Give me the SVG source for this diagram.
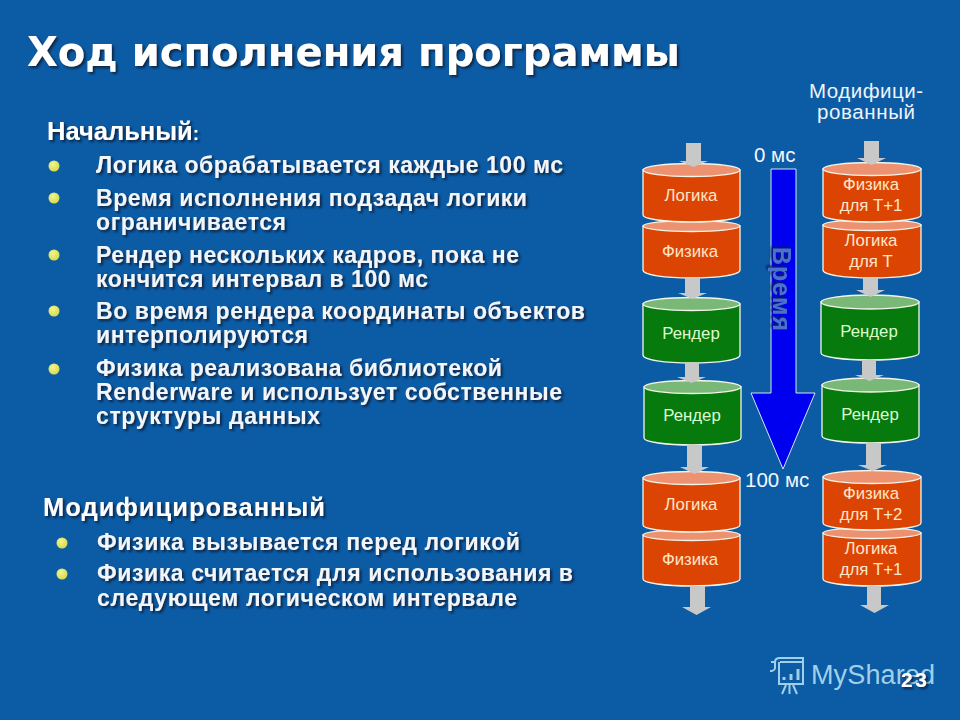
<svg xmlns="http://www.w3.org/2000/svg" width="960" height="720" viewBox="0 0 960 720">
<defs>
<filter id="sh" x="-5%" y="-30%" width="110%" height="160%"><feDropShadow dx="2" dy="2" stdDeviation="0.8" flood-color="#0a2040" flood-opacity="0.95"/></filter>
<filter id="shv" x="-40%" y="-10%" width="180%" height="120%"><feDropShadow dx="-2" dy="2" stdDeviation="0.8" flood-color="#0a1a60" flood-opacity="0.95"/></filter>
<radialGradient id="bul" cx="0.4" cy="0.35" r="0.7"><stop offset="0" stop-color="#f4f48c"/><stop offset="1" stop-color="#d4d84c"/></radialGradient>
</defs>
<style>
text{font-family:"Liberation Sans",Arial,sans-serif}
.t{font-family:"DejaVu Sans",Verdana,sans-serif;font-weight:700;font-size:40px;fill:#fff}
.h{font-weight:700;font-size:25.500px;fill:#fff}
.b{font-weight:700;font-size:23px;fill:#f2f6fa}
.l{font-size:20.500px;fill:#eef4fa}
.o .s{fill:#dc4404}.o .c{fill:#ec9270}
.g .s{fill:#067a0c}.g .c{fill:#7ab878}
.s,.c{stroke:#f2f6ea;stroke-width:1.3}
.o text{fill:#ffe6c8;font-size:16.800px;text-anchor:middle}
.g text{fill:#dcfcd0;font-size:16.800px;text-anchor:middle}
.a{fill:#c8c8c8}
.d{fill:url(#bul)}
</style>
<rect width="960" height="720" fill="#0b5ba5"/>
<text class="t" x="27" y="66" textLength="653" filter="url(#sh)">Ход исполнения программы</text>
<g id="text-initial">
<text class="h" x="47" y="140" filter="url(#sh)">Начальный<tspan font-size="19">:</tspan></text>
<circle class="d" cx="54" cy="166" r="5.500"/><circle class="d" cx="54" cy="198" r="5.500"/><circle class="d" cx="54" cy="255" r="5.500"/><circle class="d" cx="54" cy="311" r="5.500"/><circle class="d" cx="54" cy="369" r="5.500"/>
<g filter="url(#sh)">
<text class="b" x="96" y="173" textLength="467">Логика обрабатывается каждые 100 мс</text>
<text class="b" x="96" y="206" textLength="431">Время исполнения подзадач логики</text>
<text class="b" x="96" y="230" textLength="190">ограничивается</text>
<text class="b" x="96" y="263" textLength="423">Рендер нескольких кадров, пока не</text>
<text class="b" x="96" y="287" textLength="332">кончится интервал в 100 мс</text>
<text class="b" x="96" y="319" textLength="489">Во время рендера координаты объектов</text>
<text class="b" x="96" y="343" textLength="212">интерполируются</text>
<text class="b" x="96" y="376" textLength="406">Физика реализована библиотекой</text>
<text class="b" x="96" y="400" textLength="466">Renderware и использует собственные</text>
<text class="b" x="96" y="424" textLength="224">структуры данных</text>
</g>
</g>
<g id="text-modified">
<text class="h" x="43" y="516" filter="url(#sh)" textLength="282">Модифицированный</text>
<circle class="d" cx="62" cy="543" r="5.500"/><circle class="d" cx="62" cy="574" r="5.500"/>
<g filter="url(#sh)">
<text class="b" x="97" y="550" textLength="423">Физика вызывается перед логикой</text>
<text class="b" x="97" y="581" textLength="476">Физика считается для использования в</text>
<text class="b" x="97" y="606" textLength="420">следующем логическом интервале</text>
</g>
</g>
<g id="col-label">
<text class="l" x="866" y="98" text-anchor="middle" textLength="114">Модифици-</text>
<text class="l" x="866" y="119" text-anchor="middle" textLength="98">рованный</text>
</g>
<g id="n-physics-l1" class="o"><path class="s" d="M643 226V270C643 275 665 278 691.500 278S740 275 740 270V226Z"/><ellipse class="c" cx="691.500" cy="226" rx="48.500" ry="5.500"/><text x="690" y="257">Физика</text></g>
<g id="n-logic-l1" class="o"><path class="s" d="M643 170V215C643 219 665 222 691.500 222S740 219 740 215V170Z"/><ellipse class="c" cx="691.500" cy="170" rx="48.500" ry="6.500"/><text x="691" y="201">Логика</text></g>
<g id="n-render-l1" class="g"><path class="s" d="M643 304V355C643 360 665 363 691.500 363S740 360 740 355V304Z"/><ellipse class="c" cx="691.500" cy="304" rx="48.500" ry="6.500"/><text x="691" y="339">Рендер</text></g>
<g id="n-render-l2" class="g"><path class="s" d="M644 387V438C644 442 666 445 692.500 445S741 442 741 438V387Z"/><ellipse class="c" cx="692.500" cy="387" rx="48.500" ry="6.500"/><text x="692" y="421">Рендер</text></g>
<g id="n-physics-l2" class="o"><path class="s" d="M643 535V579C643 583 665 586 691.500 586S740 583 740 579V535Z"/><ellipse class="c" cx="691.500" cy="535" rx="48.500" ry="5.500"/><text x="690" y="565">Физика</text></g>
<g id="n-logic-l2" class="o"><path class="s" d="M643 478V525C643 529 665 532 691.500 532S740 529 740 525V478Z"/><ellipse class="c" cx="691.500" cy="478" rx="48.500" ry="6.500"/><text x="691" y="510">Логика</text></g>
<g id="n-logic-r1" class="o"><path class="s" d="M823 225V270C823 275 845 278 872 278S921 275 921 270V225Z"/><ellipse class="c" cx="872" cy="225" rx="49" ry="5.500"/><text x="871" y="246">Логика</text><text x="871" y="267">для Т</text></g>
<g id="n-physics-r1" class="o"><path class="s" d="M823 169V215C823 219 845 222 872 222S921 219 921 215V169Z"/><ellipse class="c" cx="872" cy="169" rx="49" ry="6.500"/><text x="871" y="190">Физика</text><text x="871" y="211">для Т+1</text></g>
<g id="n-render-r1" class="g"><path class="s" d="M821 302V353C821 357 843 360 870 360S919 357 919 353V302Z"/><ellipse class="c" cx="870" cy="302" rx="49" ry="7"/><text x="869" y="337">Рендер</text></g>
<g id="n-render-r2" class="g"><path class="s" d="M822 385V436C822 440 844 443 870.500 443S919 440 919 436V385Z"/><ellipse class="c" cx="870.500" cy="385" rx="48.500" ry="7"/><text x="870" y="420">Рендер</text></g>
<g id="n-logic-r2" class="o"><path class="s" d="M823 533V579C823 583 845 586 872 586S921 583 921 579V533Z"/><ellipse class="c" cx="872" cy="533" rx="49" ry="5.500"/><text x="871" y="554">Логика</text><text x="871" y="575">для Т+1</text></g>
<g id="n-physics-r2" class="o"><path class="s" d="M823 477V523C823 527 845 530 872 530S921 527 921 523V477Z"/><ellipse class="c" cx="872" cy="477" rx="49" ry="6.500"/><text x="871" y="499">Физика</text><text x="871" y="520">для Т+2</text></g>
<g id="connectors">
<path class="a" d="M686 143H701V161H708L693.500 167L679 161H686Z"/>
<path class="a" d="M685 278H700V293H707L692.500 299L678 293H685Z"/>
<path class="a" d="M685 363H699V377H706L691.500 383L677 377H685Z"/>
<path class="a" d="M687 445H702V467H709L694.500 474L680 467H687Z"/>
<path class="a" d="M690 586H705V607H711L696.500 615L682 607H690Z"/>
<path class="a" d="M864 141H879V158H886L871.500 165L857 158H864Z"/>
<path class="a" d="M863 278H878V290H885L870.500 297L856 290H863Z"/>
<path class="a" d="M862 360H876V375H884L869.500 381L855 375H862Z"/>
<path class="a" d="M866 443H881V465H887L872.500 471L858 465H866Z"/>
<path class="a" d="M867 586H881V605H889L874.500 613L860 605H867Z"/>
</g>
<g id="time-arrow">
<path d="M771 169H796V393H815L783 469L751 393H771Z" fill="#0000f0" stroke="#d8e4f4" stroke-width="1"/>
<text transform="translate(773 247) rotate(90)" font-family="'DejaVu Sans',sans-serif" font-size="25" font-weight="700" textLength="84" fill="#4a72cc" filter="url(#shv)">Время</text>
<text x="754" y="162" font-size="20.500" fill="#f4f8fc">0 мс</text>
<text x="745" y="487" font-size="20.500" fill="#f4f8fc">100 мс</text>
</g>
<g id="watermark" fill="none" stroke="#a0d0e8" stroke-width="2">
<path d="M775 662C775 658 778 658 780 658H803V662H780M775 662V668C775 670 772 671 770 671M775 662H771M779 662V684H803V662"/>
<path d="M782 694L786 685M797 694L793 685M789.500 685V694"/>
<path d="M784 680V677M791 680V674M798 680V669" stroke-width="3"/>
<text x="811" y="684" font-family="'Open Sans',sans-serif" font-size="27" fill="#a0d0e8" stroke="none" textLength="124">MyShared</text>
</g>
<text id="page" x="901" y="687" font-size="21" font-weight="700" fill="#fff" filter="url(#sh)" textLength="26">23</text>
</svg>
